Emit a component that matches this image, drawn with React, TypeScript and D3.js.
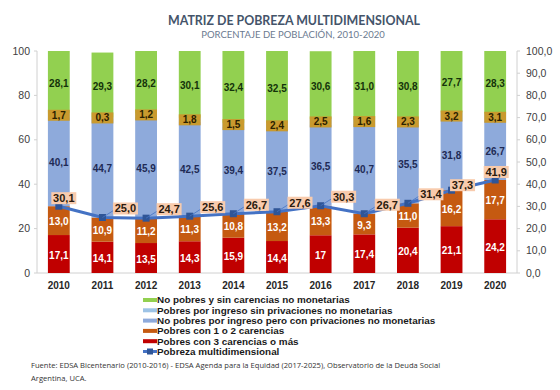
import React from 'react';
import * as d3 from 'd3';

const years = ['2010', '2011', '2012', '2013', '2014', '2015', '2016', '2017', '2018', '2019', '2020'];

// stacked from the bottom up
const pobres3 = [17.1, 14.1, 13.5, 14.3, 15.9, 14.4, 17, 17.4, 20.4, 21.1, 24.2];
const pobres12 = [13.0, 10.9, 11.2, 11.3, 10.8, 13.2, 13.3, 9.3, 11.0, 16.2, 17.7];
const noPobresConPriv = [40.1, 44.7, 45.9, 42.5, 39.4, 37.5, 36.5, 40.7, 35.5, 31.8, 26.7];
const pobresSinPriv = [1.7, 0.3, 1.2, 1.8, 1.5, 2.4, 2.5, 1.6, 2.3, 3.2, 3.1];
const noPobres = [28.1, 29.3, 28.2, 30.1, 32.4, 32.5, 30.6, 31.0, 30.8, 27.7, 28.3];

const pobrezaMulti = [30.1, 25.0, 24.7, 25.6, 26.7, 27.6, 30.3, 26.7, 31.4, 37.3, 41.9];

const leftTicks = [0, 20, 40, 60, 80, 100];
const rightTicks = [0, 10, 20, 30, 40, 50, 60, 70, 80, 90, 100];

const comma = (v: number) => v.toFixed(1).replace('.', ',');
const raw = (v: number) => String(v).replace('.', ',');

const series = [
  { key: 'red', name: 'Pobres con 3 carencias o más', values: pobres3, color: '#c00000', text: '#ffffff', fmt: raw },
  { key: 'orange', name: 'Pobres con 1 o 2 carencias', values: pobres12, color: '#c55a11', text: '#ffffff', fmt: comma },
  { key: 'blue', name: 'No pobres por ingreso pero con privaciones no monetarias', values: noPobresConPriv, color: '#8eaadb', text: '#1f2a55', fmt: comma },
  { key: 'gold', name: 'Pobres por ingreso sin privaciones no monetarias', values: pobresSinPriv, color: '#9dc3e6', text: '#2b2100', fmt: comma },
  { key: 'green', name: 'No pobres y sin carencias no monetarias', values: noPobres, color: '#92d050', text: '#14330a', fmt: comma },
];

const legendOrder = ['green', 'gold', 'blue', 'orange', 'red'];

const W = 560;
const H = 390;
const plot = { left: 37, right: 517, top: 51, bottom: 273 };

export default function App() {
  const x = d3.scaleBand<string>().domain(years).range([plot.left, plot.right]).paddingInner(0.5).paddingOuter(0.25);
  const y = d3.scaleLinear().domain([0, 100]).range([plot.bottom, plot.top]);
  const yR = d3.scaleLinear().domain([0, 100]).range([plot.bottom, plot.top]);
  const cx = (yr: string) => (x(yr) || 0) + x.bandwidth() / 2;

  const table = years.map((yr, i) => {
    const row: Record<string, number | string> = { year: yr };
    series.forEach(s => (row[s.key] = s.values[i]));
    return row;
  });
  const stacked = d3.stack<Record<string, number | string>>().keys(series.map(s => s.key))(table as any);

  const line = d3
    .line<number>()
    .x((_, i) => cx(years[i]))
    .y(d => yR(d));

  const font = 'Arial, "Liberation Sans", sans-serif';
  const n = years.length;
  const labelShift = (i: number) => {
    if (i === 0) return { dx: 5, dy: -8 };
    if (i === n - 1) return { dx: 1, dy: -8 };
    if (i === n - 2) return { dx: 11, dy: -5 };
    return { dx: 23, dy: -9 };
  };

  const legY = (i: number) => 300 + i * 10.3;

  return (
    <svg width={W} height={H} style={{ position: 'absolute', left: 0, top: 0, background: '#fff' }} fontFamily={font}>
      <text x={294} y={25} textAnchor="middle" fontFamily='Lato, "Open Sans", sans-serif' fontWeight={700} fontSize={12.4} fill="#44546a">
        MATRIZ DE POBREZA MULTIDIMENSIONAL
      </text>
      <text x={293} y={38} textAnchor="middle" fontFamily='Lato, "Open Sans", sans-serif' fontSize={9.5} fill="#6b7a90">
        PORCENTAJE DE POBLACIÓN, 2010-2020
      </text>

      {/* axes */}
      <line x1={plot.left} x2={plot.left} y1={plot.top} y2={plot.bottom} stroke="#d0d0d0" />
      <line x1={plot.right} x2={plot.right} y1={plot.top} y2={plot.bottom} stroke="#d0d0d0" />
      <line x1={plot.left} x2={plot.right} y1={plot.bottom} y2={plot.bottom} stroke="#d0d0d0" />
      {leftTicks.map(t => (
        <g key={'l' + t}>
          <line x1={plot.left - 3} x2={plot.left} y1={y(t)} y2={y(t)} stroke="#d0d0d0" />
          <text x={30} y={y(t)} dy="0.35em" textAnchor="end" fontSize={10.5} fill="#404040">
            {t}
          </text>
        </g>
      ))}
      {rightTicks.map(t => (
        <g key={'r' + t}>
          <line x1={plot.right} x2={plot.right + 3} y1={yR(t)} y2={yR(t)} stroke="#d0d0d0" />
          <text x={526} y={yR(t)} dy="0.35em" fontSize={10.5} fill="#404040">
            {t.toFixed(1).replace('.', ',')}
          </text>
        </g>
      ))}
      {years.map(yr => (
        <text key={'x' + yr} x={cx(yr)} y={289} textAnchor="middle" fontSize={10} fontWeight={700} fill="#262626">
          {yr}
        </text>
      ))}

      {/* bars */}
      {stacked.map((layer, li) => {
        const s = series[li];
        return (
          <g key={s.key}>
            {layer.map((d, i) => (
              <rect
                key={i}
                x={x(years[i])}
                y={y(d[1])}
                width={x.bandwidth()}
                height={Math.max(0, y(d[0]) - y(d[1]))}
                fill={s.color}
              />
            ))}
          </g>
        );
      })}

      {/* bar labels */}
      {stacked.map((layer, li) => {
        const s = series[li];
        return (
          <g key={'lab' + s.key}>
            {layer.map((d, i) => {
              const mid = y((d[0] + d[1]) / 2);
              return (
                <g key={i}>
                  {s.key === 'gold' && (
                    <rect x={x(years[i])} y={mid - 5.5} width={x.bandwidth()} height={11} fill="#c99a2e" />
                  )}
                  <text
                    x={cx(years[i])}
                    y={mid + (s.key === 'gold' ? 0 : 1)}
                    dy="0.35em"
                    textAnchor="middle"
                    fontSize={10}
                    fontWeight={700}
                    fill={s.text}
                  >
                    {s.fmt(s.values[i])}
                  </text>
                </g>
              );
            })}
          </g>
        );
      })}

      {/* line */}
      <path d={line(pobrezaMulti) || ''} fill="none" stroke="#4472c4" strokeWidth={3} />
      {pobrezaMulti.map((v, i) => (
        <rect key={'m' + i} x={cx(years[i]) - 3.5} y={yR(v) - 3.5} width={7} height={7} fill="#2f5597" />
      ))}
      {pobrezaMulti.map((v, i) => {
        const { dx, dy } = labelShift(i);
        const lx = cx(years[i]) + dx;
        const ly = yR(v) + dy;
        return (
          <g key={'pl' + i}>
            {dx > 8 && (
              <line x1={cx(years[i])} y1={yR(v)} x2={lx - 12} y2={ly + 2} stroke="#4472c4" strokeWidth={0.8} />
            )}
            <rect x={lx - 12.5} y={ly - 6} width={25} height={12} fill="#f8cbad" />
            <text x={lx} y={ly} dy="0.36em" textAnchor="middle" fontSize={11} fontWeight={700} fill="#2a1a0e">
              {comma(v)}
            </text>
          </g>
        );
      })}

      {/* legend */}
      {legendOrder.map((k, i) => {
        const s = series.find(d => d.key === k)!;
        return (
          <g key={'lg' + k}>
            <rect x={143} y={legY(i) - 2} width={14} height={4} fill={s.color} />
            <text x={157} y={legY(i)} dy="0.34em" fontSize={9.9} fontWeight={700} fill="#1a1a1a">
              {s.name}
            </text>
          </g>
        );
      })}
      <g>
        <line x1={143} x2={157} y1={legY(5)} y2={legY(5)} stroke="#4472c4" strokeWidth={3} />
        <rect x={147} y={legY(5) - 3} width={6} height={6} fill="#2f5597" />
        <text x={157} y={legY(5)} dy="0.34em" fontSize={9.9} fontWeight={700} fill="#1a1a1a">
          Pobreza multidimensional
        </text>
      </g>

      <text x={31} y={368} fontSize={7.6} fontFamily='"Open Sans", sans-serif' fill="#333">
        Fuente: EDSA Bicentenario (2010-2016) - EDSA Agenda para la Equidad (2017-2025), Observatorio de la Deuda Social
      </text>
      <text x={31} y={381} fontSize={7.6} fontFamily='"Open Sans", sans-serif' fill="#333">
        Argentina, UCA.
      </text>
    </svg>
  );
}
